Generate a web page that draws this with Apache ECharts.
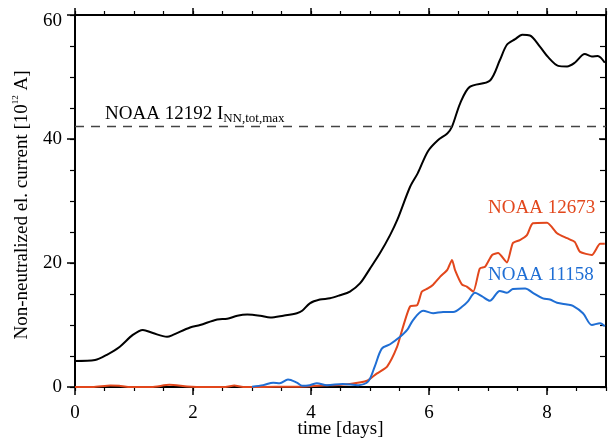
<!DOCTYPE html>
<html>
<head>
<meta charset="utf-8">
<script src="https://cdn.jsdelivr.net/npm/echarts@6/dist/echarts.min.js"></script>
<style>
    html, body { margin: 0; padding: 0; background: #fff; }
    #currentChart { width: 612px; height: 439px; }
</style>
</head>
<body>
<div id="currentChart"></div>
<script>
    // values: time in days, current in 10^12 A
    const xTicks = [0, 2, 4, 6, 8]
    const yTicks = [0, 20, 40, 60]
    const refLevel = 42

    const blackDays = [0, 0.34, 0.54, 0.76, 0.98, 1.15, 1.32, 1.56, 1.66, 1.95, 2.12, 2.41, 2.58, 2.75, 2.92, 3.14, 3.31, 3.53, 3.76, 3.85, 3.98, 4.15, 4.32, 4.49, 4.66, 4.83, 5.0, 5.17, 5.34, 5.46, 5.68, 5.81, 5.98, 6.15, 6.31, 6.39, 6.53, 6.69, 7.03, 7.2, 7.32, 7.46, 7.58, 7.71, 7.88, 8.02, 8.19, 8.34, 8.47, 8.64, 8.76, 8.86, 8.98]
    const blackValues = [4.2, 4.35, 5.2, 6.5, 8.4, 9.2, 8.7, 8.1, 8.4, 9.6, 10.0, 10.9, 11.0, 11.5, 11.7, 11.5, 11.2, 11.5, 11.9, 12.3, 13.5, 14.1, 14.3, 14.8, 15.4, 16.7, 19.1, 21.6, 24.5, 26.9, 32.3, 34.5, 38.0, 39.8, 40.9, 42.0, 45.8, 48.4, 49.4, 52.7, 55.2, 56.1, 56.8, 56.7, 54.9, 53.2, 51.8, 51.7, 52.3, 53.7, 53.3, 53.4, 52.3]

    const redDays = [0, 0.3, 0.6, 0.75, 0.9, 1.3, 1.6, 1.9, 2.2, 2.55, 2.7, 2.85, 3.2, 3.6, 3.81, 4.37, 4.66, 4.95, 5.12, 5.29, 5.46, 5.56, 5.68, 5.8, 5.88, 5.98, 6.07, 6.19, 6.31, 6.39, 6.44, 6.56, 6.64, 6.75, 6.86, 6.95, 7.07, 7.17, 7.32, 7.42, 7.54, 7.66, 7.76, 8.0, 8.17, 8.34, 8.47, 8.56, 8.76, 8.9, 8.98]
    const redValues = [0, 0, 0.25, 0.2, 0, 0, 0.35, 0.1, 0, 0, 0.25, 0, 0, 0.05, 0.05, 0.3, 0.5, 1.0, 2.2, 3.3, 6.5, 9.7, 13.0, 13.2, 15.4, 15.9, 16.5, 17.8, 18.9, 20.5, 18.9, 16.5, 16.2, 15.4, 19.1, 19.4, 21.3, 21.6, 20.1, 23.2, 23.7, 24.5, 26.4, 26.5, 24.8, 24.0, 23.4, 21.8, 21.3, 23.1, 23.1]

    const blueDays = [3.0, 3.19, 3.36, 3.47, 3.61, 3.76, 3.85, 3.98, 4.1, 4.27, 4.54, 4.8, 4.97, 5.08, 5.2, 5.34, 5.51, 5.63, 5.73, 5.9, 6.07, 6.24, 6.41, 6.58, 6.66, 6.78, 6.9, 7.03, 7.2, 7.32, 7.42, 7.63, 7.76, 7.93, 8.05, 8.17, 8.34, 8.44, 8.61, 8.76, 8.9, 8.98]
    const blueValues = [0.05, 0.3, 0.7, 0.6, 1.2, 0.7, 0.2, 0.3, 0.6, 0.3, 0.5, 0.3, 0.9, 3.3, 6.2, 6.9, 8.1, 9.2, 10.8, 12.3, 11.9, 12.1, 12.1, 13.1, 13.8, 15.2, 14.6, 13.9, 15.5, 15.2, 15.8, 15.9, 15.2, 14.3, 14.1, 13.6, 13.3, 13.1, 11.9, 10.0, 10.3, 9.8]

    const seriesNames = ['NOAA 11158 tot', 'NOAA 12673', 'NOAA 11158']
    const refLabel = 'NOAA 12192 I'
    const refSub = 'NN,tot,max'

    const font = 'Liberation Serif'
    const red = '#E2471C'
    const blue = '#1F6ED4'

    const pairs = (xs, ys) => xs.map((x, i) => [x, ys[i]])

    // extra axes that only carry the frame and tick marks
    const tickAxis = (position, max, interval, length, inside, line) => ({
        type: 'value',
        position: position,
        min: 0,
        max: max,
        interval: interval,
        axisLabel: { show: false },
        splitLine: { show: false },
        axisLine: { show: line, onZero: false, lineStyle: { color: '#000', width: 2 } },
        axisTick: { show: true, inside: inside, length: length, lineStyle: { color: '#000', width: length > 6 ? 1.5 : 1.2 } }
    })

    const myChart = echarts.init(document.getElementById('currentChart'))
    let option = {
        animation: false,
        backgroundColor: '#fff',
        textStyle: { fontFamily: font },
        grid: {
            left: 75,
            right: 6,
            top: 15,
            bottom: 52,
            outerBoundsMode: 'none'
        },
        xAxis: [
            {
                type: 'value',
                position: 'bottom',
                min: xTicks[0],
                max: 9,
                interval: xTicks[1] - xTicks[0],
                name: 'time [days]',
                nameLocation: 'middle',
                nameGap: 33,
                nameMoveOverlap: false,
                nameTextStyle: { fontFamily: font, fontSize: 19, color: '#000' },
                axisLine: { show: true, onZero: false, lineStyle: { color: '#000', width: 2 } },
                axisTick: { show: true, inside: false, length: 8, lineStyle: { color: '#000', width: 1.5 } },
                axisLabel: { fontFamily: font, fontSize: 19, color: '#000', margin: 17, showMaxLabel: false },
                splitLine: { show: false }
            },
            tickAxis('bottom', 9, 0.5, 4, false, false),
            tickAxis('top', 9, 2, 7, false, true),
            tickAxis('top', 9, 0.5, 4, false, false)
        ],
        yAxis: [
            {
                type: 'value',
                position: 'left',
                min: yTicks[0],
                max: yTicks[yTicks.length - 1],
                interval: yTicks[1] - yTicks[0],
                name: '{a|Non-neutralized el. current [10}{s|12}{a| A]}',
                nameLocation: 'middle',
                nameGap: 42,
                nameRotate: 90,
                nameTextStyle: {
                    padding: [0, 8, 0, 0],
                    rich: {
                        a: { fontFamily: font, fontSize: 19, color: '#000', lineHeight: 22 },
                        s: { fontFamily: font, fontSize: 9, color: '#000', lineHeight: 9, verticalAlign: 'top' }
                    }
                },
                axisLine: { show: true, onZero: false, lineStyle: { color: '#000', width: 2 } },
                axisTick: { show: true, inside: false, length: 8, lineStyle: { color: '#000', width: 1.5 } },
                axisLabel: {
                    fontFamily: font,
                    fontSize: 19,
                    color: '#000',
                    margin: 13,
                    formatter: (v) => v === yTicks[yTicks.length - 1] ? '{t|' + v + '}' : '' + v,
                    rich: { t: { fontFamily: font, fontSize: 19, color: '#000', padding: [12, 0, 0, 0] } }
                },
                splitLine: { show: false }
            },
            tickAxis('left', 60, 5, 5, false, false),
            tickAxis('right', 60, 20, 7, true, true),
            tickAxis('right', 60, 5, 6, true, false)
        ],
        graphic: [
            {
                type: 'text',
                left: 105,
                top: 105,
                style: {
                    text: '{a|' + refLabel + '}{b|' + refSub + '}',
                    rich: {
                        a: { fontFamily: font, fontSize: 19, fill: '#000', lineHeight: 22 },
                        b: { fontFamily: font, fontSize: 13, fill: '#000', lineHeight: 12, verticalAlign: 'bottom' }
                    }
                }
            },
            {
                type: 'text',
                left: 488,
                top: 199,
                style: { text: seriesNames[1], fontFamily: font, fontSize: 19, fill: red }
            },
            {
                type: 'text',
                left: 488,
                top: 266,
                style: { text: seriesNames[2], fontFamily: font, fontSize: 19, fill: blue }
            }
        ],
        series: [
            {
                name: seriesNames[0],
                type: 'line',
                showSymbol: false,
                smooth: 0.3,
                data: pairs(blackDays, blackValues),
                lineStyle: { color: '#000', width: 2 },
                markLine: {
                    silent: true,
                    symbol: 'none',
                    label: { show: false },
                    lineStyle: { color: '#444', width: 1.4, type: [9, 7] },
                    data: [{ yAxis: refLevel }]
                },
                z: 3
            },
            {
                name: seriesNames[1],
                type: 'line',
                showSymbol: false,
                smooth: 0.2,
                data: pairs(redDays, redValues),
                lineStyle: { color: red, width: 2 },
                z: 2
            },
            {
                name: seriesNames[2],
                type: 'line',
                showSymbol: false,
                smooth: 0.3,
                data: pairs(blueDays, blueValues),
                lineStyle: { color: blue, width: 2 },
                z: 2
            }
        ]
    }
    myChart.setOption(option)
</script>
</body>
</html>
